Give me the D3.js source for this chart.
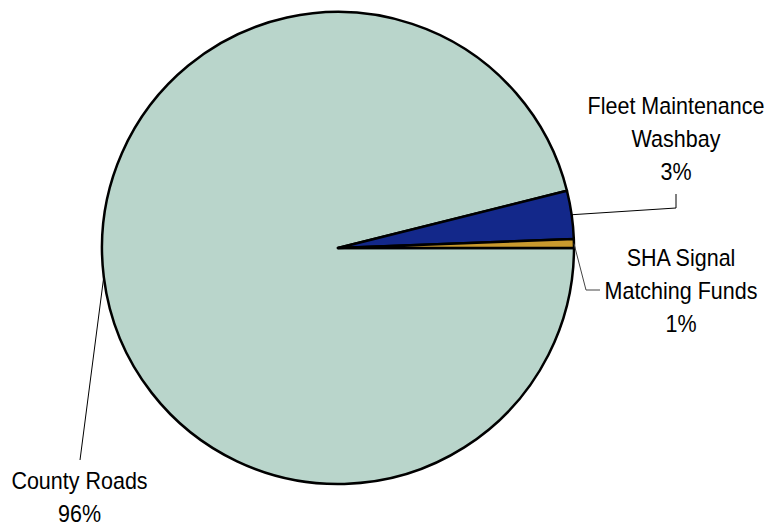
<!DOCTYPE html>
<html>
<head>
<meta charset="utf-8">
<script src="https://cdn.jsdelivr.net/npm/d3@7"></script>
<style>
  html, body { margin: 0; padding: 0; background: #fff; }
  svg { display: block; }
  text { font-family: "Liberation Sans", Arial, sans-serif; font-size: 21.5px; fill: #000; }
</style>
</head>
<body>
<svg id="chart" width="768" height="527"></svg>
<script>
const categories = ["County Roads", "Fleet Maintenance Washbay", "SHA Signal Matching Funds"];
const values = [96.1, 3.3, 0.6];
const labelLines = [["County Roads"], ["Fleet Maintenance", "Washbay"], ["SHA Signal", "Matching Funds"]];
const colors = ["#b9d5cb", "#13288a", "#c99a2e"];

const svg = d3.select("#chart");
const cx = 338, cy = 248, r = 236;
const g = svg.append("g").attr("transform", `translate(${cx},${cy})`);

const total = d3.sum(values);
const pie = d3.pie().sort(null).value(d => d)
  .startAngle(Math.PI / 2).endAngle(Math.PI / 2 + 2 * Math.PI);
const arcs = pie(values);
const arc = d3.arc().innerRadius(0).outerRadius(r);

g.selectAll("path.slice").data(arcs).enter().append("path")
  .attr("class", "slice")
  .attr("d", arc)
  .attr("fill", (d, i) => colors[i])
  .attr("stroke", "#000")
  .attr("stroke-width", 2.5)
  .attr("stroke-linejoin", "round");

// label layout (absolute positions)
const layout = [
  { tx: 79.5, ty: 489, line: a => [a, [80, 460]] },
  { tx: 676, ty: 114, line: a => [a, [676, 208], [676, 194]] },
  { tx: 681, ty: 266, line: a => [a, [586, 290], [600, 290]] }
];
const lh = 33;
const sy = 1.1;

arcs.forEach((d, i) => {
  const mid = (d.startAngle + d.endAngle) / 2;
  const p = [cx + r * Math.sin(mid), cy - r * Math.cos(mid)];
  const L = layout[i];
  svg.append("path")
    .attr("d", d3.line()(L.line(p)))
    .attr("fill", "none")
    .attr("stroke", i === 2 ? "#444" : "#000")
    .attr("stroke-width", 1);
  const lines = labelLines[i].concat([Math.round(values[i] / total * 100) + "%"]);
  const t = svg.append("text").attr("text-anchor", "middle")
    .attr("transform", `translate(${L.tx},${L.ty}) scale(1,${sy})`);
  lines.forEach((s, k) => {
    t.append("tspan").attr("x", 0).attr("y", k * lh / sy).text(s);
  });
});
</script>
</body>
</html>
